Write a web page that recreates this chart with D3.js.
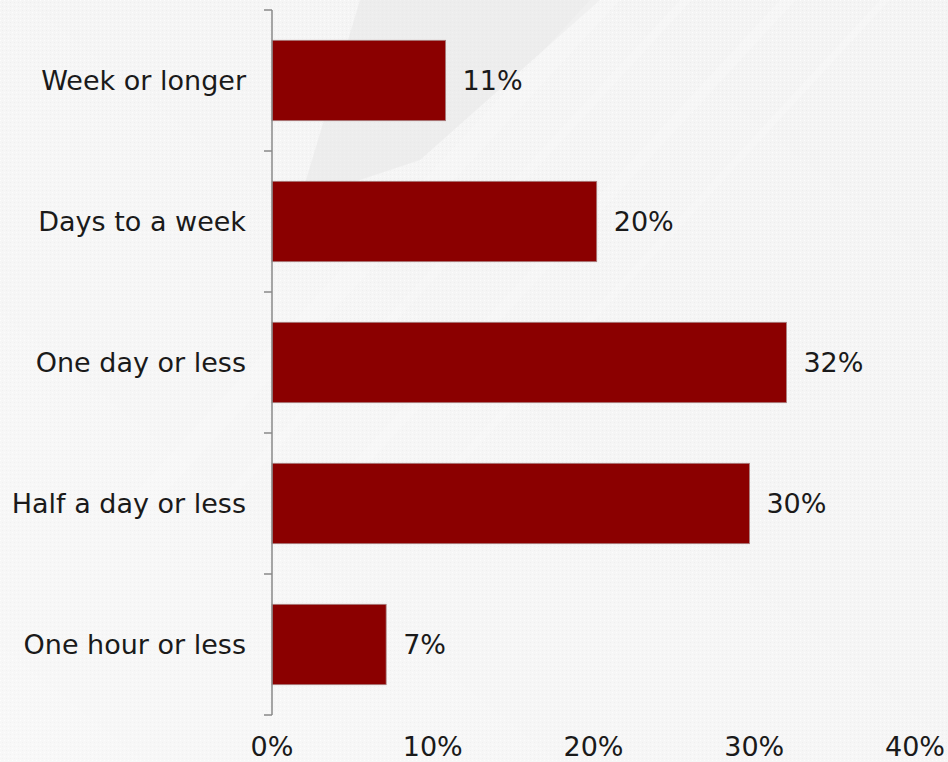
<!DOCTYPE html>
<html>
<head>
<meta charset="utf-8">
<script src="https://cdn.jsdelivr.net/npm/d3@7"></script>
<style>
  body { margin: 0; background: #f4f4f4; }
  svg text { font-family: "DejaVu Sans", Verdana, sans-serif; fill: #1a1a1a; }
</style>
</head>
<body>
<svg id="chart" width="948" height="762"></svg>
<script>
const categories = ["Week or longer", "Days to a week", "One day or less", "Half a day or less", "One hour or less"];
const values = [10.8, 20.2, 32.0, 29.7, 7.1];
const valueLabels = ["11%", "20%", "32%", "30%", "7%"];
const xTicks = [0, 10, 20, 30, 40];

const svg = d3.select("#chart");
const W = 948, H = 762;
const margin = {top: 10, left: 272, right: 33, bottom: 47};
const fontSize = 27;

// background texture
const defs = svg.append("defs");
const pat = defs.append("pattern")
    .attr("id", "dots")
    .attr("width", 4).attr("height", 4)
    .attr("patternUnits", "userSpaceOnUse");
pat.append("rect").attr("width", 4).attr("height", 4).attr("fill", "#f4f4f4");
pat.append("rect").attr("x", 0).attr("y", 0).attr("width", 1).attr("height", 1).attr("fill", "#fcfcfc");
pat.append("rect").attr("x", 2).attr("y", 2).attr("width", 1).attr("height", 1).attr("fill", "#ececec");

const grad = defs.append("linearGradient")
    .attr("id", "fade").attr("x1", 0).attr("y1", 1).attr("x2", 1).attr("y2", 0);
grad.append("stop").attr("offset", "0").attr("stop-color", "#fff").attr("stop-opacity", 0.35);
grad.append("stop").attr("offset", "0.6").attr("stop-color", "#fff").attr("stop-opacity", 0.1);
grad.append("stop").attr("offset", "1").attr("stop-color", "#fff").attr("stop-opacity", 0);

svg.append("rect").attr("width", W).attr("height", H).attr("fill", "url(#dots)");
svg.append("rect").attr("width", W).attr("height", H).attr("fill", "url(#fade)");

// soft darker wedge near the top and faint diagonal streaks
svg.append("path")
    .attr("d", "M360,0 L600,0 L420,160 L300,200 Z")
    .attr("fill", "#e4e4e4").attr("opacity", 0.45);
[[590, 30], [680, 12], [780, 16], [880, 10]].forEach(([x0, w]) => {
    svg.append("path")
        .attr("d", `M${x0},0 L${x0 + w},0 L${x0 + w - 480},520 L${x0 - 480},520 Z`)
        .attr("fill", "#fff").attr("opacity", 0.18);
});

const x = d3.scaleLinear()
    .domain([0, 40])
    .range([margin.left, W - margin.right]);

const y = d3.scaleBand()
    .domain(categories)
    .range([margin.top, H - margin.bottom])
    .paddingInner(0.43)
    .paddingOuter(0.215);

const g = svg.append("g");

g.selectAll(".bar")
    .data(categories)
    .enter()
    .append("rect")
    .attr("class", "bar")
    .attr("x", x(0))
    .attr("y", d => y(d))
    .attr("width", (d, i) => x(values[i]) - x(0))
    .attr("height", y.bandwidth())
    .attr("fill", "#8b0000")
    .attr("stroke", "#a88080")
    .attr("stroke-width", 0.8);

g.selectAll(".val")
    .data(categories)
    .enter()
    .append("text")
    .attr("class", "val")
    .attr("x", (d, i) => x(values[i]) + 17)
    .attr("y", d => y(d) + y.bandwidth() / 2)
    .attr("dy", "0.36em")
    .attr("font-size", fontSize)
    .text((d, i) => valueLabels[i]);

// y axis line with ticks between categories
const axisG = svg.append("g");
axisG.append("line")
    .attr("x1", x(0)).attr("x2", x(0))
    .attr("y1", margin.top).attr("y2", H - margin.bottom)
    .attr("stroke", "#888").attr("stroke-width", 1.5);

const tickYs = d3.range(categories.length + 1).map(i => margin.top + i * (H - margin.bottom - margin.top) / categories.length);
axisG.selectAll(".ytick")
    .data(tickYs)
    .enter()
    .append("line")
    .attr("x1", x(0) - 8).attr("x2", x(0))
    .attr("y1", d => d).attr("y2", d => d)
    .attr("stroke", "#888").attr("stroke-width", 1.5);

axisG.selectAll(".cat")
    .data(categories)
    .enter()
    .append("text")
    .attr("x", x(0) - 26)
    .attr("y", d => y(d) + y.bandwidth() / 2)
    .attr("dy", "0.36em")
    .attr("text-anchor", "end")
    .attr("font-size", fontSize)
    .text(d => d);

axisG.selectAll(".xt")
    .data(xTicks)
    .enter()
    .append("text")
    .attr("x", d => x(d))
    .attr("y", 756)
    .attr("text-anchor", "middle")
    .attr("font-size", fontSize)
    .text(d => d + "%");
</script>
</body>
</html>
